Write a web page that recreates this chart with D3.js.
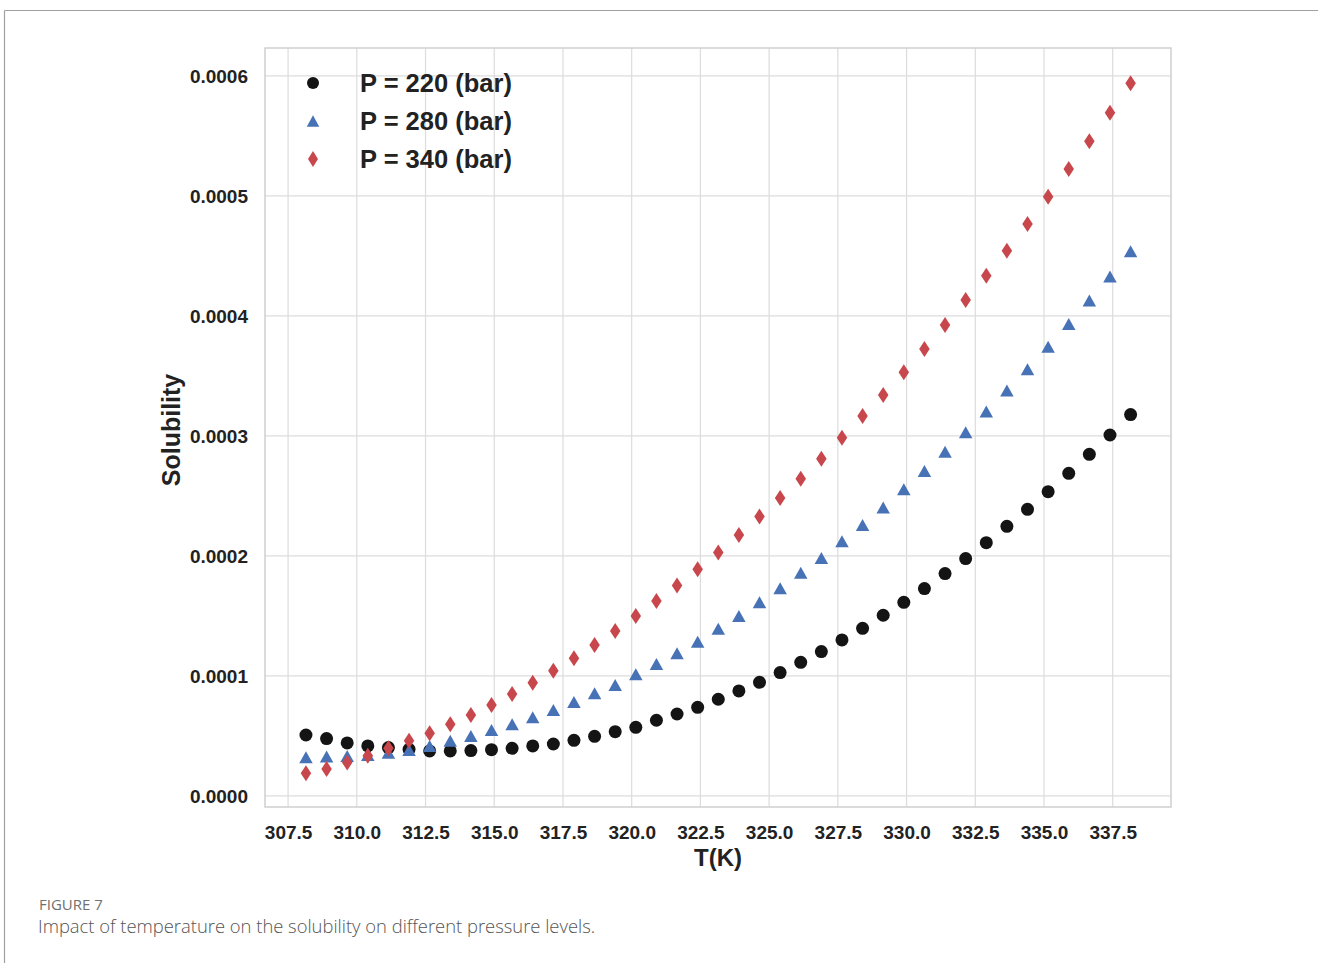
<!DOCTYPE html>
<html>
<head>
<meta charset="utf-8">
<script src="https://cdn.jsdelivr.net/npm/d3@7/dist/d3.min.js"></script>
<style>
  html, body { margin: 0; padding: 0; background: #fff; }
  svg { display: block; }
</style>
</head>
<body>
<svg id="chart" width="1318" height="963"></svg>
<script>
// ---- data ----
const temperature = [308.15, 308.9, 309.65, 310.4, 311.15, 311.9, 312.65, 313.4, 314.15, 314.9,
  315.65, 316.4, 317.15, 317.9, 318.65, 319.4, 320.15, 320.9, 321.65, 322.4,
  323.15, 323.9, 324.65, 325.4, 326.15, 326.9, 327.65, 328.4, 329.15, 329.9,
  330.65, 331.4, 332.15, 332.9, 333.65, 334.4, 335.15, 335.9, 336.65, 337.4, 338.15];

const p220 = [0.0000508, 0.0000478, 0.0000442, 0.0000417, 0.0000403, 0.0000389, 0.0000375, 0.0000375, 0.0000378, 0.0000386,
  0.0000397, 0.0000417, 0.0000433, 0.0000464, 0.0000497, 0.0000536, 0.0000572, 0.0000631, 0.0000683, 0.0000739,
  0.0000806, 0.0000875, 0.0000947, 0.0001028, 0.0001114, 0.0001203, 0.0001300, 0.0001397, 0.0001506, 0.0001614,
  0.0001728, 0.0001853, 0.0001978, 0.0002111, 0.0002247, 0.0002389, 0.0002536, 0.0002689, 0.0002847, 0.0003008, 0.0003178];

const p280 = [0.0000322, 0.0000328, 0.0000333, 0.0000342, 0.0000361, 0.0000383, 0.0000417, 0.0000461, 0.0000500, 0.0000550,
  0.0000597, 0.0000656, 0.0000717, 0.0000783, 0.0000856, 0.0000925, 0.0001014, 0.0001100, 0.0001189, 0.0001286,
  0.0001394, 0.0001500, 0.0001614, 0.0001731, 0.0001861, 0.0001983, 0.0002122, 0.0002258, 0.0002403, 0.0002556,
  0.0002708, 0.0002869, 0.0003031, 0.0003203, 0.0003378, 0.0003556, 0.0003744, 0.0003933, 0.0004128, 0.0004328, 0.0004539];

const p340 = [0.0000189, 0.0000225, 0.0000278, 0.0000336, 0.0000397, 0.0000461, 0.0000522, 0.0000597, 0.0000675, 0.0000758,
  0.0000850, 0.0000944, 0.0001044, 0.0001147, 0.0001258, 0.0001375, 0.0001500, 0.0001625, 0.0001753, 0.0001889,
  0.0002028, 0.0002175, 0.0002328, 0.0002483, 0.0002644, 0.0002811, 0.0002986, 0.0003167, 0.0003342, 0.0003531,
  0.0003725, 0.0003925, 0.0004133, 0.0004336, 0.0004544, 0.0004767, 0.0004994, 0.0005225, 0.0005456, 0.0005694, 0.0005939];

const seriesLabels = ["P = 220 (bar)", "P = 280 (bar)", "P = 340 (bar)"];
const xTicks = [307.5, 310.0, 312.5, 315.0, 317.5, 320.0, 322.5, 325.0, 327.5, 330.0, 332.5, 335.0, 337.5];
const yTicks = [0.0000, 0.0001, 0.0002, 0.0003, 0.0004, 0.0005, 0.0006];

// ---- layout ----
const svg = d3.select("#chart");
const plot = { left: 265, top: 48, right: 1171, bottom: 807 };

const x = d3.scaleLinear().domain([306.66, 339.62]).range([plot.left, plot.right]);
const y = d3.scaleLinear().domain([-0.0000092, 0.0006233]).range([plot.bottom, plot.top]);

// outer figure frame (top and left lines)
svg.append("line").attr("x1", 4.5).attr("x2", 1318).attr("y1", 10.5).attr("y2", 10.5)
  .attr("stroke", "#a0a0a0").attr("stroke-width", 1.2);
svg.append("line").attr("x1", 4.5).attr("x2", 4.5).attr("y1", 10.5).attr("y2", 963)
  .attr("stroke", "#a0a0a0").attr("stroke-width", 1.2);

// grid
const gridColor = "#dcdcdc";
svg.append("g").selectAll("line").data(xTicks).join("line")
  .attr("x1", d => x(d)).attr("x2", d => x(d))
  .attr("y1", plot.top).attr("y2", plot.bottom)
  .attr("stroke", gridColor).attr("stroke-width", 1.2);
svg.append("g").selectAll("line").data(yTicks).join("line")
  .attr("x1", plot.left).attr("x2", plot.right)
  .attr("y1", d => y(d)).attr("y2", d => y(d))
  .attr("stroke", gridColor).attr("stroke-width", 1.2);

// frame
svg.append("rect").attr("x", plot.left).attr("y", plot.top)
  .attr("width", plot.right - plot.left).attr("height", plot.bottom - plot.top)
  .attr("fill", "none").attr("stroke", "#cfcfcf").attr("stroke-width", 1.5);

// axes (labels only, via d3 axis)
const tickFont = "Liberation Sans, Arial, sans-serif";
const xAxis = d3.axisBottom(x).tickValues(xTicks).tickFormat(d3.format(".1f")).tickSize(0).tickPadding(0);
const gx = svg.append("g").attr("transform", `translate(0,${plot.bottom + 18})`).call(xAxis);
gx.select(".domain").remove();
gx.selectAll("text").attr("font-family", tickFont).attr("font-size", 19).attr("font-weight", "bold")
  .attr("fill", "#222").attr("dy", "0.71em");

const yAxis = d3.axisLeft(y).tickValues(yTicks).tickFormat(d3.format(".4f")).tickSize(0).tickPadding(0);
const gy = svg.append("g").attr("transform", `translate(${plot.left - 17},0)`).call(yAxis);
gy.select(".domain").remove();
gy.selectAll("text").attr("font-family", tickFont).attr("font-size", 19).attr("font-weight", "bold")
  .attr("fill", "#222");

// axis titles
svg.append("text").attr("x", 718).attr("y", 866).attr("text-anchor", "middle")
  .attr("font-family", tickFont).attr("font-size", 24).attr("font-weight", "bold").attr("fill", "#222")
  .text("T(K)");
svg.append("text").attr("transform", "translate(180,430) rotate(-90)").attr("text-anchor", "middle")
  .attr("font-family", tickFont).attr("font-size", 25).attr("font-weight", "bold").attr("fill", "#222")
  .text("Solubility");

// marker shapes
const triPath = (w, h) => `M0,${-h / 2}L${w / 2},${h / 2}L${-w / 2},${h / 2}Z`;
const diaPath = (w, h) => `M0,${-h / 2}L${w / 2},0L0,${h / 2}L${-w / 2},0Z`;

const colors = ["#141414", "#4872b6", "#c8474c"];

const g = svg.append("g");
// P=220 circles
g.append("g").selectAll("circle").data(temperature.map((t, i) => [t, p220[i]])).join("circle")
  .attr("cx", d => x(d[0])).attr("cy", d => y(d[1])).attr("r", 6.5).attr("fill", colors[0]);
// P=280 triangles
g.append("g").selectAll("path").data(temperature.map((t, i) => [t, p280[i]])).join("path")
  .attr("transform", d => `translate(${x(d[0])},${y(d[1])})`).attr("d", triPath(13.5, 12)).attr("fill", colors[1]);
// P=340 diamonds
g.append("g").selectAll("path").data(temperature.map((t, i) => [t, p340[i]])).join("path")
  .attr("transform", d => `translate(${x(d[0])},${y(d[1])})`).attr("d", diaPath(10.5, 16)).attr("fill", colors[2]);

// legend
const legend = svg.append("g");
const legY = [83, 121, 159];
const legX = 313;
legend.append("circle").attr("cx", legX).attr("cy", legY[0]).attr("r", 6).attr("fill", colors[0]);
legend.append("path").attr("transform", `translate(${legX},${legY[1]})`).attr("d", triPath(12.5, 11.5)).attr("fill", colors[1]);
legend.append("path").attr("transform", `translate(${legX},${legY[2]})`).attr("d", diaPath(10, 16)).attr("fill", colors[2]);
legend.selectAll("text").data(seriesLabels).join("text")
  .attr("x", 360).attr("y", (d, i) => legY[i]).attr("dy", "0.36em")
  .attr("font-family", tickFont).attr("font-size", 25.5).attr("font-weight", "bold").attr("fill", "#222")
  .text(d => d);

// caption
svg.append("text").attr("x", 39).attr("y", 910)
  .attr("font-family", "Open Sans, sans-serif").attr("font-size", 15).attr("fill", "#707070")
  .text("FIGURE 7");
svg.append("text").attr("x", 38).attr("y", 933)
  .attr("font-family", "Open Sans, sans-serif").attr("font-size", 18.4).attr("font-weight", 300).attr("fill", "#555")
  .text("Impact of temperature on the solubility on different pressure levels.");
</script>
</body>
</html>
